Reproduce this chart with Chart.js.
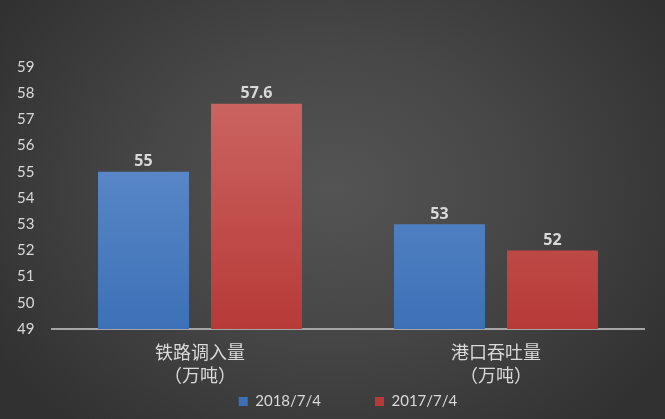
<!DOCTYPE html>
<html>
<head>
<meta charset="utf-8">
<script src="https://cdn.jsdelivr.net/npm/chart.js@4"></script>
<style>
  html, body { margin: 0; padding: 0; }
  body {
    width: 665px; height: 419px; overflow: hidden;
    background: radial-gradient(ellipse 60% 75% at 50% 45%, #545454 0%, #474747 45%, #313131 100%);
  }
  #wrap { position: relative; width: 665px; height: 419px; }
</style>
</head>
<body>
<div id="wrap"><canvas id="chart" width="665" height="419"></canvas></div>
<script>
const categories = [['铁路调入量', '（万吨）'], ['港口吞吐量', '（万吨）']];
const seriesNames = ['2018/7/4', '2017/7/4'];
const values2018 = [55, 53];
const values2017 = [57.6, 52];
const yMin = 49;
const yMax = 59;

const textColor = '#d9d9d9';

function barGradient(ctx, top, bottom) {
  const chart = ctx.chart;
  const area = chart.chartArea;
  if (!area) return bottom;
  const g = chart.ctx.createLinearGradient(0, area.top, 0, area.bottom);
  g.addColorStop(0, top);
  g.addColorStop(1, bottom);
  return g;
}

const valueLabels = {
  id: 'valueLabels',
  afterDatasetsDraw(chart) {
    const ctx = chart.ctx;
    ctx.save();
    ctx.font = 'bold 16px "Open Sans", sans-serif';
    ctx.fillStyle = textColor;
    ctx.textAlign = 'center';
    ctx.textBaseline = 'bottom';
    chart.data.datasets.forEach((ds, i) => {
      chart.getDatasetMeta(i).data.forEach((bar, j) => {
        ctx.fillText(String(ds.data[j]), bar.x, bar.y - 2);
      });
    });
    ctx.restore();
  }
};

// the x labels hang below their (shortened) box, so widen the clip after layout
const unclipXLabels = {
  id: 'unclipXLabels',
  afterLayout(chart) {
    chart.scales.x.bottom = chart.height;
  }
};

new Chart(document.getElementById('chart'), {
  type: 'bar',
  data: {
    labels: categories,
    datasets: [
      {
        label: seriesNames[0],
        data: values2018,
        backgroundColor: (ctx) => barGradient(ctx, '#6b94cf', '#3c71b8'),
        borderWidth: 0,
        categoryPercentage: 0.7635,
        barPercentage: 0.805
      },
      {
        label: seriesNames[1],
        data: values2017,
        backgroundColor: (ctx) => barGradient(ctx, '#ce6a67', '#b73a37'),
        borderWidth: 0,
        categoryPercentage: 0.7635,
        barPercentage: 0.805
      }
    ]
  },
  options: {
    responsive: false,
    animation: false,
    layout: { padding: { left: 17, right: 21, top: 67, bottom: 0 } },
    scales: {
      x: {
        grid: { display: false, drawTicks: false },
        border: { color: '#a6a6a6', width: 2 },
        afterFit: (scale) => { scale.height = 11; },
        ticks: {
          color: textColor,
          font: { family: '"Noto Sans CJK SC", sans-serif', size: 18, lineHeight: 1.28 },
          padding: 12,
          maxRotation: 0
        }
      },
      y: {
        min: yMin,
        max: yMax,
        grid: { display: false, drawTicks: false },
        border: { display: false },
        afterFit: (scale) => { scale.width = 35; },
        ticks: {
          stepSize: 1,
          color: textColor,
          crossAlign: 'far',
          padding: 0,
          font: { family: 'Lato, sans-serif', size: 15 }
        }
      }
    },
    plugins: {
      legend: {
        position: 'bottom',
        fullSize: false,
        labels: {
          color: textColor,
          boxWidth: 9,
          boxHeight: 9,
          padding: 54,
          font: { family: 'Lato, sans-serif', size: 15 }
        }
      },
      tooltip: { enabled: false }
    }
  },
  plugins: [valueLabels, unclipXLabels]
});
</script>
</body>
</html>
